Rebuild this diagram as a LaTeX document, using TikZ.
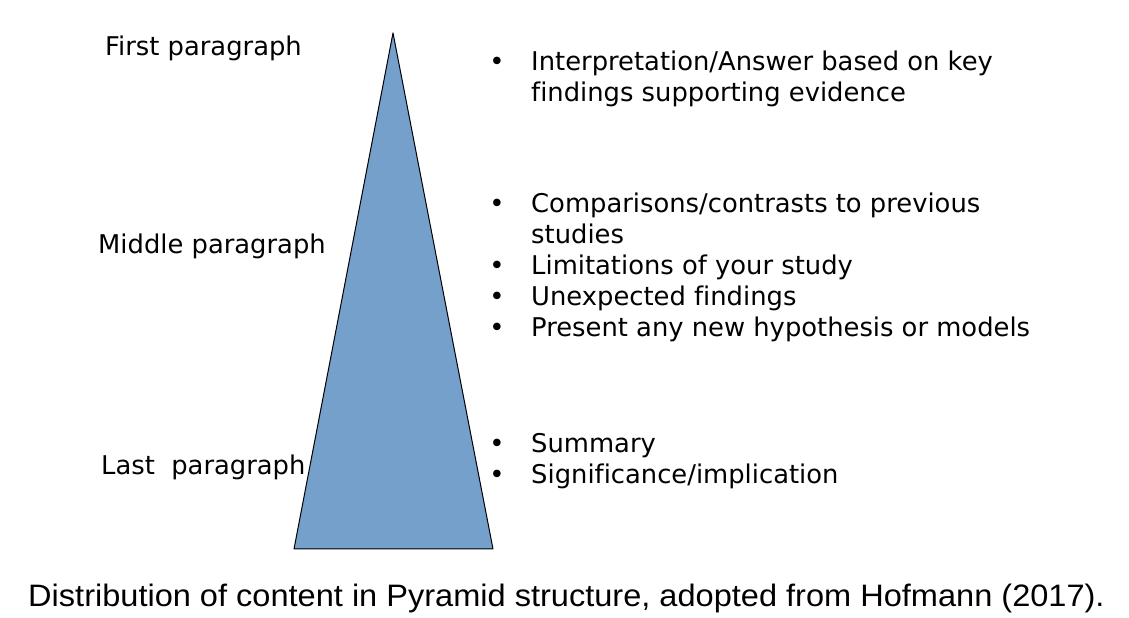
\documentclass[tikz,border=0pt]{standalone}
\usepackage{fontspec}
\setmainfont[Ligatures=NoCommon]{DejaVu Sans}
\newfontfamily\capfont{Liberation Sans}
\definecolor{pyrblue}{RGB}{117,160,204}

\begin{document}
\begin{tikzpicture}[x=1pt, y=1pt, every node/.style={font=\fontsize{25.8}{31}\selectfont, inner sep=0pt},
  para/.style={anchor=base west},
  item/.style={anchor=base west, align=left},
  dot/.style={anchor=base}]
\useasboundingbox (0,0) rectangle (1129,618);
% pyramid
\coordinate (T) at (393,585);
\coordinate (BL) at (294,69);
\coordinate (BR) at (493,69);
\draw[fill=pyrblue, line width=1pt, line join=round] (T) -- (BL) -- (BR) -- cycle;
% paragraph labels
\node[para] (P1) at (105,562) {First paragraph};
\node[para] (P2) at (98,364) {Middle paragraph};
\node[para] (P3) at (101,143) {Last\ \ paragraph};
% first paragraph items (base = last line)
\node[dot] (d1) at (497,547) {•};
\node[item] (i1) at (531,516) {Interpretation/Answer based on key\\findings supporting evidence};
% middle paragraph items
\node[dot] (d2) at (497,405) {•};
\node[item] (i2) at (531,374) {Comparisons/contrasts to previous\\studies};
\node[dot] (d3) at (497,343) {•};
\node[para] (i3) at (531,343) {Limitations of your study};
\node[dot] (d4) at (497,312) {•};
\node[para] (i4) at (531,312) {Unexpected findings};
\node[dot] (d5) at (497,281) {•};
\node[para] (i5) at (531,281) {Present any new hypothesis or models};
% last paragraph items
\node[dot] (d6) at (497,165) {•};
\node[para] (i6) at (531,165) {Summary};
\node[dot] (d7) at (497,134) {•};
\node[para] (i7) at (531,134) {Significance/implication};
% caption
\node[anchor=base west, font=\capfont\fontsize{31}{36}\selectfont] (cap) at (28,11)
  {\scalebox{1.05}[1]{Distribution of content in Pyramid structure, adopted from Hofmann (2017).}};
\end{tikzpicture}
\end{document}
